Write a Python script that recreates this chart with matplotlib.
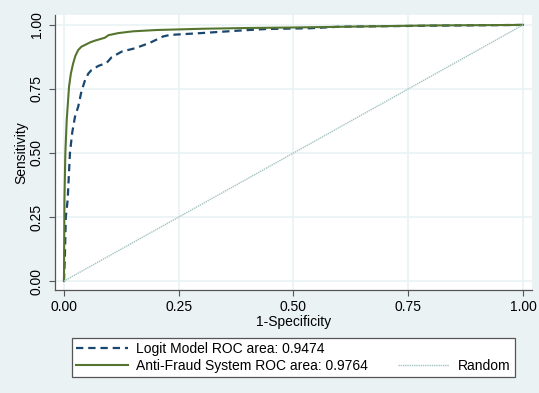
import matplotlib.pyplot as plt
from matplotlib.lines import Line2D

plt.rcParams['font.family'] = ['Liberation Sans', 'DejaVu Sans']
plt.rcParams['font.size'] = 10

# ROC points
logit_fpr = [0, 0.002, 0.004, 0.008, 0.013, 0.018, 0.024, 0.031, 0.038, 0.046, 0.053,
             0.06, 0.075, 0.093, 0.104, 0.126, 0.155, 0.187, 0.216, 0.231, 0.289,
             0.383, 0.44, 0.536, 0.6, 0.8, 1.0]
logit_tpr = [0, 0.1, 0.25, 0.316, 0.5, 0.58, 0.642, 0.681, 0.74, 0.785, 0.81,
             0.824, 0.84, 0.852, 0.874, 0.896, 0.909, 0.93, 0.955, 0.961, 0.967,
             0.978, 0.984, 0.987, 0.993, 0.997, 1.0]

fraud_fpr = [0, 0.001, 0.003, 0.006, 0.011, 0.015, 0.020, 0.025, 0.031, 0.038, 0.046,
             0.057, 0.068, 0.089, 0.097, 0.118, 0.15, 0.2, 0.3, 0.4, 0.5, 0.8, 1.0]
fraud_tpr = [0, 0.316, 0.5, 0.629, 0.759, 0.81, 0.85, 0.88, 0.902, 0.915, 0.922,
             0.932, 0.939, 0.95, 0.96, 0.968, 0.975, 0.98, 0.985, 0.988, 0.99, 0.998, 1.0]

random_x = [0, 1]
random_y = [0, 1]

ticks = [0, 0.25, 0.5, 0.75, 1.0]
tick_labels = ['0.00', '0.25', '0.50', '0.75', '1.00']

bg = '#eaf2f3'
fig = plt.figure(figsize=(5.39, 3.93), dpi=100, facecolor=bg)
ax = fig.add_axes([0.102, 0.262, 0.885, 0.70])
ax.set_facecolor('white')

ax.plot(logit_fpr, logit_tpr, color='#1a476f', lw=1.6, linestyle=(0, (3.3, 2.2)),
        label='Logit Model ROC area: 0.9474')
ax.plot(fraud_fpr, fraud_tpr, color='#55752f', lw=1.5,
        label='Anti-Fraud System ROC area: 0.9764')
ax.plot(random_x, random_y, color='#a3c2c2', lw=1.0, linestyle=(0, (1, 0.6)),
        label='Random')

ax.set_xlim(-0.0196, 1.0196)
ax.set_ylim(-0.035, 1.039)
ax.set_xticks(ticks)
ax.set_xticklabels(tick_labels)
ax.set_yticks(ticks)
ax.set_yticklabels(tick_labels, rotation=90, va='center')
ax.grid(True, color=bg, lw=1.2)
ax.set_axisbelow(True)

for s in ['top', 'right']:
    ax.spines[s].set_visible(False)
for s in ['left', 'bottom']:
    ax.spines[s].set_color('#555555')
    ax.spines[s].set_linewidth(0.9)
ax.tick_params(axis='x', length=4, color='#555555', pad=3)
ax.tick_params(axis='y', length=4, color='#555555', pad=4)

ax.set_xlabel('1-Specificity', labelpad=1)
ax.set_ylabel('Sensitivity', labelpad=1)

h = ax.get_legend_handles_labels()[0]
blank = Line2D([], [], linestyle='none')
leg = fig.legend([h[0], h[1], blank, h[2]],
                 ['Logit Model ROC area: 0.9474', 'Anti-Fraud System ROC area: 0.9764', '', 'Random'],
                 ncol=2, loc='center', bbox_to_anchor=(0.1336, 0.033, 0.821, 0.115),
                 mode='expand', fancybox=False, framealpha=1, edgecolor='#555555',
                 handlelength=3.7, borderpad=0.3, labelspacing=0.2, handletextpad=0.6,
                 borderaxespad=0)
leg.get_frame().set_linewidth(0.9)

fig.savefig('out.png', dpi=100, facecolor=bg)
